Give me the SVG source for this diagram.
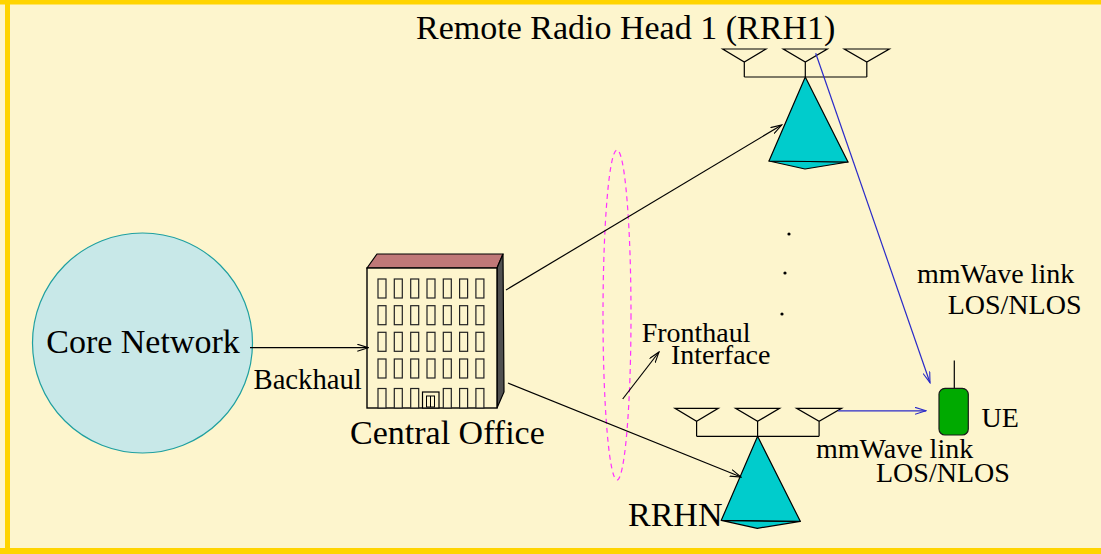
<svg xmlns="http://www.w3.org/2000/svg" width="1101" height="554" viewBox="0 0 1101 554">
  <style>
    .lbl { font-family: "Liberation Serif", "Times New Roman", serif; fill: #000; }
    .big { font-size: 34px; }
    .mid { font-size: 28px; }
    .ln { fill: none; stroke: #000; stroke-width: 1.2; }
    .blue { fill: none; stroke: #2a2ac8; stroke-width: 1.2; }
    .win { fill: #fdf5cd; stroke: #222; stroke-width: 1.2; }
    .ant { fill: none; stroke: #000; stroke-width: 1.2; }
    .cone { fill: #00cccc; stroke: #000; stroke-width: 1.2; stroke-linejoin: round; }
  </style>
  <defs>
    <marker id="ah" markerWidth="12" markerHeight="8" refX="11" refY="4" orient="auto" markerUnits="userSpaceOnUse">
      <path d="M0,0.5 L11,4 L0,7.5" fill="none" stroke="#000" stroke-width="1.1"/>
    </marker>
    <marker id="ahb" markerWidth="12" markerHeight="8" refX="11" refY="4" orient="auto" markerUnits="userSpaceOnUse">
      <path d="M0,0.5 L11,4 L0,7.5" fill="none" stroke="#2a2ac8" stroke-width="1.1"/>
    </marker>
    <!-- remote radio head: three antennas on a bar above a cone mast -->
    <g id="rrh">
      <path class="ant" d="M722.7,49 L766,49 L744.3,62 Z M744.3,62 V77"/>
      <path class="ant" d="M783.3,49 L827.3,49 L805.3,62 Z M805.3,62 V77"/>
      <path class="ant" d="M844.3,49 L889.3,49 L866.8,62 Z M866.8,62 V77"/>
      <path class="ant" d="M744.3,77 H866.8"/>
      <path class="cone" d="M769,161 L805,169 L848,162 Z"/>
      <path class="cone" d="M805.3,77 L769,161 L848,162 Z"/>
    </g>
  </defs>

  <!-- page background and frame -->
  <rect x="0" y="0" width="1101" height="554" fill="#fdf5cd"/>
  <rect x="0" y="0" width="1101" height="4.5" fill="#ffd400"/>
  <rect x="5" y="0" width="5" height="554" fill="#ffd400"/>
  <rect x="0" y="548" width="1101" height="6" fill="#ffd400"/>

  <!-- core network -->
  <g id="core">
    <circle cx="142.5" cy="343" r="110" fill="#c8e8e8" stroke="#1fa0a0" stroke-width="1.2"/>
    <text class="lbl big" x="143" y="352.5" text-anchor="middle">Core Network</text>
  </g>

  <!-- central office building -->
  <g id="central-office">
    <polygon points="367,268 377,254 503,254 497,268" fill="#c07878" stroke="#000" stroke-width="1.2"/>
    <polygon points="497,268 503,254 504,392 497,408" fill="#505050" stroke="#000" stroke-width="1.2"/>
    <rect x="367" y="268" width="130" height="140" fill="#fdf5cd" stroke="#000" stroke-width="1.4"/>
    <g class="win">
      <rect x="378" y="279" width="8" height="19"/><rect x="394.3" y="279" width="8" height="19"/><rect x="410.7" y="279" width="8" height="19"/><rect x="427" y="279" width="8" height="19"/><rect x="443.3" y="279" width="8" height="19"/><rect x="459.6" y="279" width="8" height="19"/><rect x="475.9" y="279" width="8" height="19"/>
      <rect x="378" y="305.7" width="8" height="19"/><rect x="394.3" y="305.7" width="8" height="19"/><rect x="410.7" y="305.7" width="8" height="19"/><rect x="427" y="305.7" width="8" height="19"/><rect x="443.3" y="305.7" width="8" height="19"/><rect x="459.6" y="305.7" width="8" height="19"/><rect x="475.9" y="305.7" width="8" height="19"/>
      <rect x="378" y="332.3" width="8" height="19"/><rect x="394.3" y="332.3" width="8" height="19"/><rect x="410.7" y="332.3" width="8" height="19"/><rect x="427" y="332.3" width="8" height="19"/><rect x="443.3" y="332.3" width="8" height="19"/><rect x="459.6" y="332.3" width="8" height="19"/><rect x="475.9" y="332.3" width="8" height="19"/>
      <rect x="378" y="359" width="8" height="19"/><rect x="394.3" y="359" width="8" height="19"/><rect x="410.7" y="359" width="8" height="19"/><rect x="427" y="359" width="8" height="19"/><rect x="443.3" y="359" width="8" height="19"/><rect x="459.6" y="359" width="8" height="19"/><rect x="475.9" y="359" width="8" height="19"/>
      <rect x="378" y="388.5" width="8" height="19.5"/><rect x="394.3" y="388.5" width="8" height="19.5"/><rect x="410.7" y="388.5" width="8" height="19.5"/><rect x="443.3" y="388.5" width="8" height="19.5"/><rect x="459.6" y="388.5" width="8" height="19.5"/><rect x="475.9" y="388.5" width="8" height="19.5"/>
    </g>
    <rect x="422.5" y="392" width="16.5" height="16" fill="#fdf5cd" stroke="#000" stroke-width="1.2"/>
    <rect x="426.5" y="396" width="8" height="11" fill="none" stroke="#000" stroke-width="1"/>
    <line x1="430.5" y1="396" x2="430.5" y2="407" stroke="#000" stroke-width="1"/>
    <text class="lbl big" x="350" y="443.5">Central Office</text>
  </g>

  <!-- remote radio heads -->
  <g id="rrh1">
    <use href="#rrh"/>
    <text class="lbl big" x="416" y="39">Remote Radio Head 1 (RRH1)</text>
  </g>
  <g id="rrhn">
    <use href="#rrh" transform="translate(-47.7,359.3)"/>
    <text class="lbl big" x="628" y="526">RRHN</text>
  </g>

  <!-- user equipment -->
  <g id="ue">
    <line x1="954.3" y1="360.5" x2="954.3" y2="388.3" stroke="#000" stroke-width="1.2"/>
    <rect x="939" y="388.3" width="29.3" height="46.7" rx="6" fill="#00aa00" stroke="#1a1a1a" stroke-width="1.2"/>
    <text class="lbl mid" x="981.5" y="427.3">UE</text>
  </g>

  <!-- fronthaul interface -->
  <g id="fronthaul">
    <ellipse cx="617" cy="315" rx="14" ry="165" fill="none" stroke="#ff30ff" stroke-width="1.2" stroke-dasharray="5,4"/>
    <text class="lbl mid" x="641.7" y="341.7">Fronthaul</text>
    <text class="lbl mid" x="671" y="364">Interface</text>
  </g>

  <!-- further radio heads, elided -->
  <g id="ellipsis" fill="#000">
    <circle cx="789" cy="234" r="1.6"/>
    <circle cx="785" cy="273" r="1.6"/>
    <circle cx="782" cy="314" r="1.6"/>
  </g>

  <!-- connectors -->
  <g id="connectors">
    <line class="ln" x1="250" y1="347.7" x2="368.3" y2="347.7" marker-end="url(#ah)"/>
    <line class="ln" x1="506" y1="290" x2="781.7" y2="125" marker-end="url(#ah)"/>
    <line class="ln" x1="508" y1="383" x2="741" y2="477" marker-end="url(#ah)"/>
    <line class="ln" x1="622.7" y1="399" x2="659" y2="352" marker-end="url(#ah)"/>
    <line class="blue" x1="815.7" y1="53.3" x2="930" y2="382.7" marker-end="url(#ahb)"/>
    <line class="blue" x1="838" y1="410.8" x2="926" y2="410.8" marker-end="url(#ahb)"/>
  </g>

  <!-- link and connector labels -->
  <g id="labels">
    <text class="lbl" x="253.5" y="389" font-size="28.7">Backhaul</text>
    <text class="lbl mid" x="917" y="283.3">mmWave link</text>
    <text class="lbl mid" x="947.7" y="314">LOS/NLOS</text>
    <text class="lbl mid" x="816" y="457.7">mmWave link</text>
    <text class="lbl mid" x="876" y="482.3">LOS/NLOS</text>
  </g>
</svg>
